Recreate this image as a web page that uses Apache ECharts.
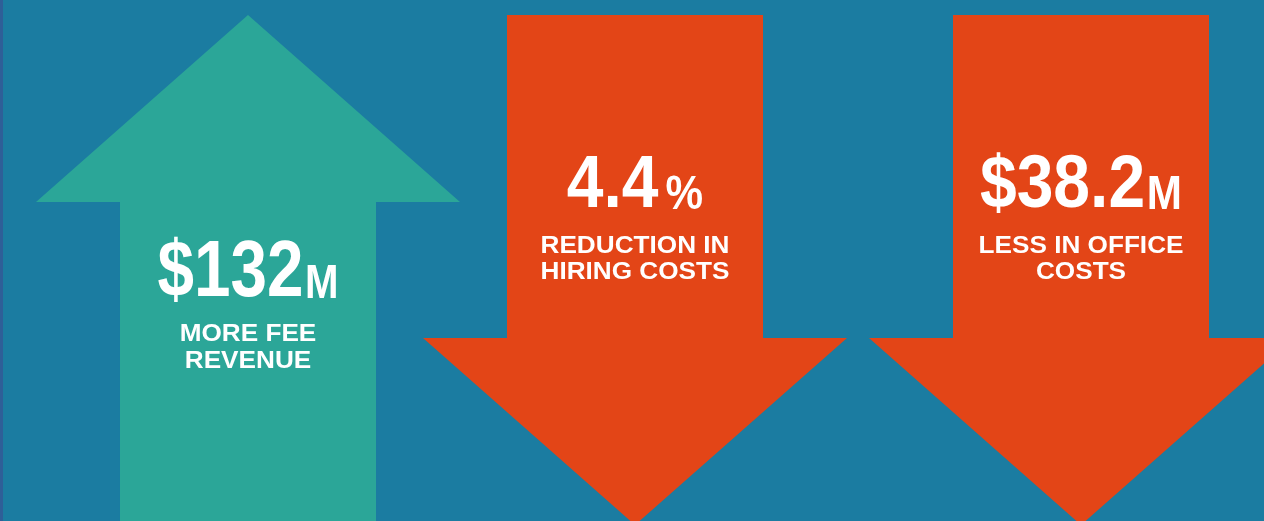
<!DOCTYPE html>
<html>
<head>
<meta charset="utf-8">
<script src="https://cdn.jsdelivr.net/npm/echarts@6/dist/echarts.min.js"></script>
<style>
html,body{margin:0;padding:0;background:#1b7ca1;}
#chart{width:1264px;height:521px;}
</style>
</head>
<body>
<div id="chart"></div>
<script>
// ---- data ----
const categories = ['More fee revenue', 'Reduction in hiring costs', 'Less in office costs'];
const values = [132, 4.4, 38.2];
const prefixes = ['$', '', '$'];
const suffixes = ['M', '%', 'M'];
const directions = ['up', 'down', 'down'];
const captionLine1 = ['MORE FEE', 'REDUCTION IN', 'LESS IN OFFICE'];
const captionLine2 = ['REVENUE', 'HIRING COSTS', 'COSTS'];

// ---- layout / style ----
const COLORS = { up: '#2ba698', down: '#e34517' };
const xNudge = [37.33, 3, 27.67];
const sufPad = [2, 8, 2];
const SHAFT_HALF = 128, HEAD_HALF = 212, HEAD_H = 187;
const LAYOUT = {
  up:   { tip: 15, bottom: 530, bigY: 273.5, bigFs: 80, sufFs: 49, bigScale: 0.82, cap1: 334, cap2: 361 },
  down: { top: 15, headBase: 338, bigY: 186, bigFs: 75, sufFs: 48, bigScale: 0.88, cap1: 246, cap2: 272 }
};
const FONT = '"Liberation Sans", Arial, sans-serif';

const data = values.map((v, i) => [i, v]);

function renderItem(params, api) {
  const i = params.dataIndex;
  const dir = directions[i];
  const L = LAYOUT[dir];
  const cx = api.coord([i, 0])[0] + xNudge[i];
  let pts;
  if (dir === 'up') {
    const base = L.tip + HEAD_H;
    pts = [[cx, L.tip], [cx + HEAD_HALF, base], [cx + SHAFT_HALF, base], [cx + SHAFT_HALF, L.bottom],
           [cx - SHAFT_HALF, L.bottom], [cx - SHAFT_HALF, base], [cx - HEAD_HALF, base]];
  } else {
    const tipY = L.headBase + HEAD_H;
    pts = [[cx - SHAFT_HALF, L.top], [cx + SHAFT_HALF, L.top], [cx + SHAFT_HALF, L.headBase],
           [cx + HEAD_HALF, L.headBase], [cx, tipY], [cx - HEAD_HALF, L.headBase], [cx - SHAFT_HALF, L.headBase]];
  }
  const v = api.value(1);
  const padB = Math.round(0.1535 * (L.bigFs - L.sufFs));
  const bigText = '{n|' + prefixes[i] + v + '}{s|' + suffixes[i] + '}';
  const capStyle = (t) => ({
    text: t, x: 0, y: 0, fill: '#ffffff', fontSize: 24, fontWeight: 'bold', fontFamily: FONT,
    align: 'center', verticalAlign: 'middle'
  });
  return {
    type: 'group',
    children: [
      { type: 'polygon', shape: { points: pts }, style: { fill: COLORS[dir] } },
      {
        type: 'text', x: cx, y: L.bigY, scaleX: L.bigScale,
        style: {
          text: bigText, x: 0, y: 0, align: 'center', verticalAlign: 'middle', fill: '#ffffff',
          rich: {
            n: { fontSize: L.bigFs, lineHeight: L.bigFs, fontWeight: 'bold', fontFamily: FONT, fill: '#ffffff', verticalAlign: 'bottom' },
            s: { fontSize: L.sufFs, fontWeight: 'bold', fontFamily: FONT, fill: '#ffffff', verticalAlign: 'bottom', padding: [0, 0, padB, sufPad[i]] }
          }
        }
      },
      { type: 'text', x: cx, y: L.cap1, scaleX: 1.09, style: capStyle(captionLine1[i]) },
      { type: 'text', x: cx, y: L.cap2, scaleX: 1.09, style: capStyle(captionLine2[i]) }
    ]
  };
}

const chart = echarts.init(document.getElementById('chart'), null, { renderer: 'canvas' });
chart.setOption({
  backgroundColor: '#1b7ca1',
  animation: false,
  grid: { left: 0, right: 0, top: 0, bottom: 0 },
  xAxis: { type: 'category', data: categories, show: false },
  yAxis: { type: 'value', min: 0, max: 1, show: false },
  graphic: [{ type: 'rect', left: 0, top: 0, shape: { width: 3, height: 521 }, style: { fill: '#2e5f98' } }],
  series: [{ type: 'custom', renderItem: renderItem, data: data, clip: false }]
});
</script>
</body>
</html>
